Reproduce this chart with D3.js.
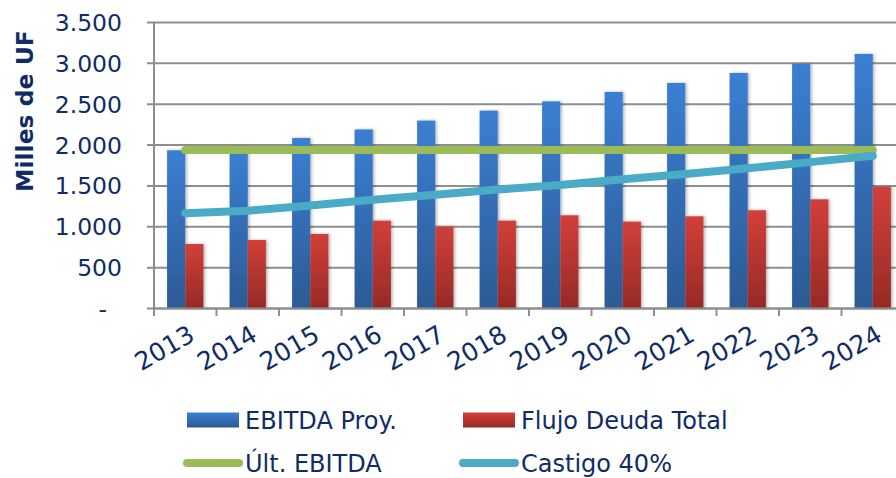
<!DOCTYPE html>
<html>
<head>
<meta charset="utf-8">
<script src="https://cdn.jsdelivr.net/npm/d3@7"></script>
<style>
  body { margin: 0; background: #fff; }
  svg text { font-family: "DejaVu Sans", Verdana, sans-serif; fill: #0f2c66; }
</style>
</head>
<body>
<div id="chart"></div>
<script>
// data (miles de UF)
const years = ['2013','2014','2015','2016','2017','2018','2019','2020','2021','2022','2023','2024'];
const ebitdaProy = [1930, 1950, 2080, 2185, 2293, 2415, 2528, 2644, 2754, 2876, 2987, 3109];
const flujoDeuda = [783, 832, 906, 1069, 995, 1069, 1134, 1057, 1122, 1196, 1330, 1481];
const ultEbitda = [1934, 1934, 1934, 1934, 1934, 1934, 1934, 1934, 1934, 1934, 1934, 1934];
const castigo = [1160, 1190, 1255, 1325, 1385, 1450, 1505, 1575, 1640, 1710, 1785, 1862];
const yTicks = [0, 500, 1000, 1500, 2000, 2500, 3000, 3500];

const width = 896, height = 478;
const plotLeft = 154, plotRight = 904, plotTop = 22, plotBottom = 308;

const svg = d3.select('#chart').append('svg')
  .attr('width', width)
  .attr('height', height);

const defs = svg.append('defs');
function grad(id, c1, c2) {
  const g = defs.append('linearGradient').attr('id', id)
    .attr('x1', 0).attr('y1', 0).attr('x2', 0).attr('y2', 1);
  g.append('stop').attr('offset', '0%').attr('stop-color', c1);
  g.append('stop').attr('offset', '100%').attr('stop-color', c2);
}
grad('gBlue', '#3b7fd3', '#2c5a94');
grad('gRed', '#d23f3a', '#962a27');
const f = defs.append('filter').attr('id', 'shadow')
  .attr('x', '-30%').attr('y', '-10%').attr('width', '160%').attr('height', '120%');
f.append('feDropShadow').attr('dx', 1.5).attr('dy', 0).attr('stdDeviation', 1.5)
  .attr('flood-color', '#000').attr('flood-opacity', 0.3);

const x = d3.scaleBand().domain(years).range([plotLeft, plotRight]);
const xInner = d3.scaleBand().domain(['a', 'b']).range([0, x.bandwidth()]).paddingOuter(0.72).paddingInner(0);
const y = d3.scaleLinear().domain([0, 3500]).range([plotBottom, plotTop]);

// accounting style: dot for thousands, dash for zero
const loc = d3.formatLocale({ decimal: ',', thousands: '.', grouping: [3], currency: ['$', ''] });
const fmt = v => v === 0 ? '-\u00a0\u00a0' : loc.format(',')(v);

// gridlines + y axis
const yAxis = svg.append('g')
  .attr('transform', `translate(${plotLeft},0)`)
  .call(d3.axisLeft(y).tickValues(yTicks).tickSize(-(plotRight - plotLeft)).tickSizeOuter(0).tickFormat(fmt).tickPadding(32));
yAxis.select('.domain').remove();
yAxis.selectAll('.tick line').attr('stroke', '#8e8e8e').attr('stroke-width', 2).attr('x1', -7);
yAxis.selectAll('.tick text')
  .attr('font-size', 23.5)
  .attr('dy', '0.36em');
svg.append('line')
  .attr('x1', plotLeft).attr('x2', plotLeft).attr('y1', plotTop).attr('y2', plotBottom)
  .attr('stroke', '#8e8e8e').attr('stroke-width', 2);

// bars
const groups = svg.append('g').selectAll('g')
  .data(years)
  .join('g')
  .attr('transform', d => `translate(${x(d)},0)`);
groups.append('rect')
  .attr('x', xInner('a'))
  .attr('width', xInner.bandwidth())
  .attr('y', (d, i) => y(ebitdaProy[i]))
  .attr('height', (d, i) => plotBottom - y(ebitdaProy[i]))
  .attr('fill', 'url(#gBlue)')
  .attr('filter', 'url(#shadow)');
groups.append('rect')
  .attr('x', xInner('b'))
  .attr('width', xInner.bandwidth())
  .attr('y', (d, i) => y(flujoDeuda[i]))
  .attr('height', (d, i) => plotBottom - y(flujoDeuda[i]))
  .attr('fill', 'url(#gRed)')
  .attr('filter', 'url(#shadow)');

// x axis
const xAxis = svg.append('g')
  .attr('transform', `translate(0,${plotBottom})`)
  .call(d3.axisBottom(x).tickSize(0).tickSizeOuter(0));
xAxis.select('.domain').attr('stroke', '#8e8e8e').attr('stroke-width', 2);
xAxis.selectAll('.tick text')
  .attr('font-size', 25)
  .attr('text-anchor', 'end')
  .attr('transform', 'translate(2,16) rotate(-30)')
  .attr('dy', '0.72em')
  .attr('y', 0);
svg.append('g').selectAll('line')
  .data(years)
  .join('line')
  .attr('x1', d => x(d)).attr('x2', d => x(d))
  .attr('y1', plotBottom).attr('y2', plotBottom + 8)
  .attr('stroke', '#8e8e8e').attr('stroke-width', 2);

// lines
const line = d3.line().x((d, i) => x(years[i]) + x.bandwidth() / 2).y(d => y(d));
svg.append('path').datum(ultEbitda)
  .attr('d', line).attr('fill', 'none')
  .attr('stroke', '#9bbb59').attr('stroke-width', 8).attr('stroke-linecap', 'round');
svg.append('path').datum(castigo)
  .attr('d', line).attr('fill', 'none')
  .attr('stroke', '#4aabc6').attr('stroke-width', 8).attr('stroke-linecap', 'round').attr('stroke-linejoin', 'round');

// y title
svg.append('text')
  .attr('transform', 'translate(33,111) rotate(-90)')
  .attr('text-anchor', 'middle')
  .attr('font-size', 23.5)
  .attr('font-weight', 'bold')
  .text('Milles de UF');

// legend
const legend = [
  { name: 'EBITDA Proy.', type: 'rect', fill: 'url(#gBlue)', x: 187, y: 420 },
  { name: 'Flujo Deuda Total', type: 'rect', fill: 'url(#gRed)', x: 463, y: 420 },
  { name: 'Últ. EBITDA', type: 'line', fill: '#9bbb59', x: 187, y: 463 },
  { name: 'Castigo 40%', type: 'line', fill: '#4aabc6', x: 463, y: 463 }
];
const lg = svg.append('g').selectAll('g').data(legend).join('g')
  .attr('transform', d => `translate(${d.x},${d.y})`);
lg.filter(d => d.type === 'rect').append('rect')
  .attr('x', 0).attr('y', -7.5).attr('width', 52).attr('height', 15)
  .attr('fill', d => d.fill);
lg.filter(d => d.type === 'line').append('line')
  .attr('x1', 0).attr('x2', 52).attr('y1', 0).attr('y2', 0)
  .attr('stroke', d => d.fill).attr('stroke-width', 8).attr('stroke-linecap', 'round');
lg.append('text')
  .attr('x', 58)
  .attr('dy', '0.36em')
  .attr('font-size', 24)
  .text(d => d.name);
</script>
</body>
</html>
